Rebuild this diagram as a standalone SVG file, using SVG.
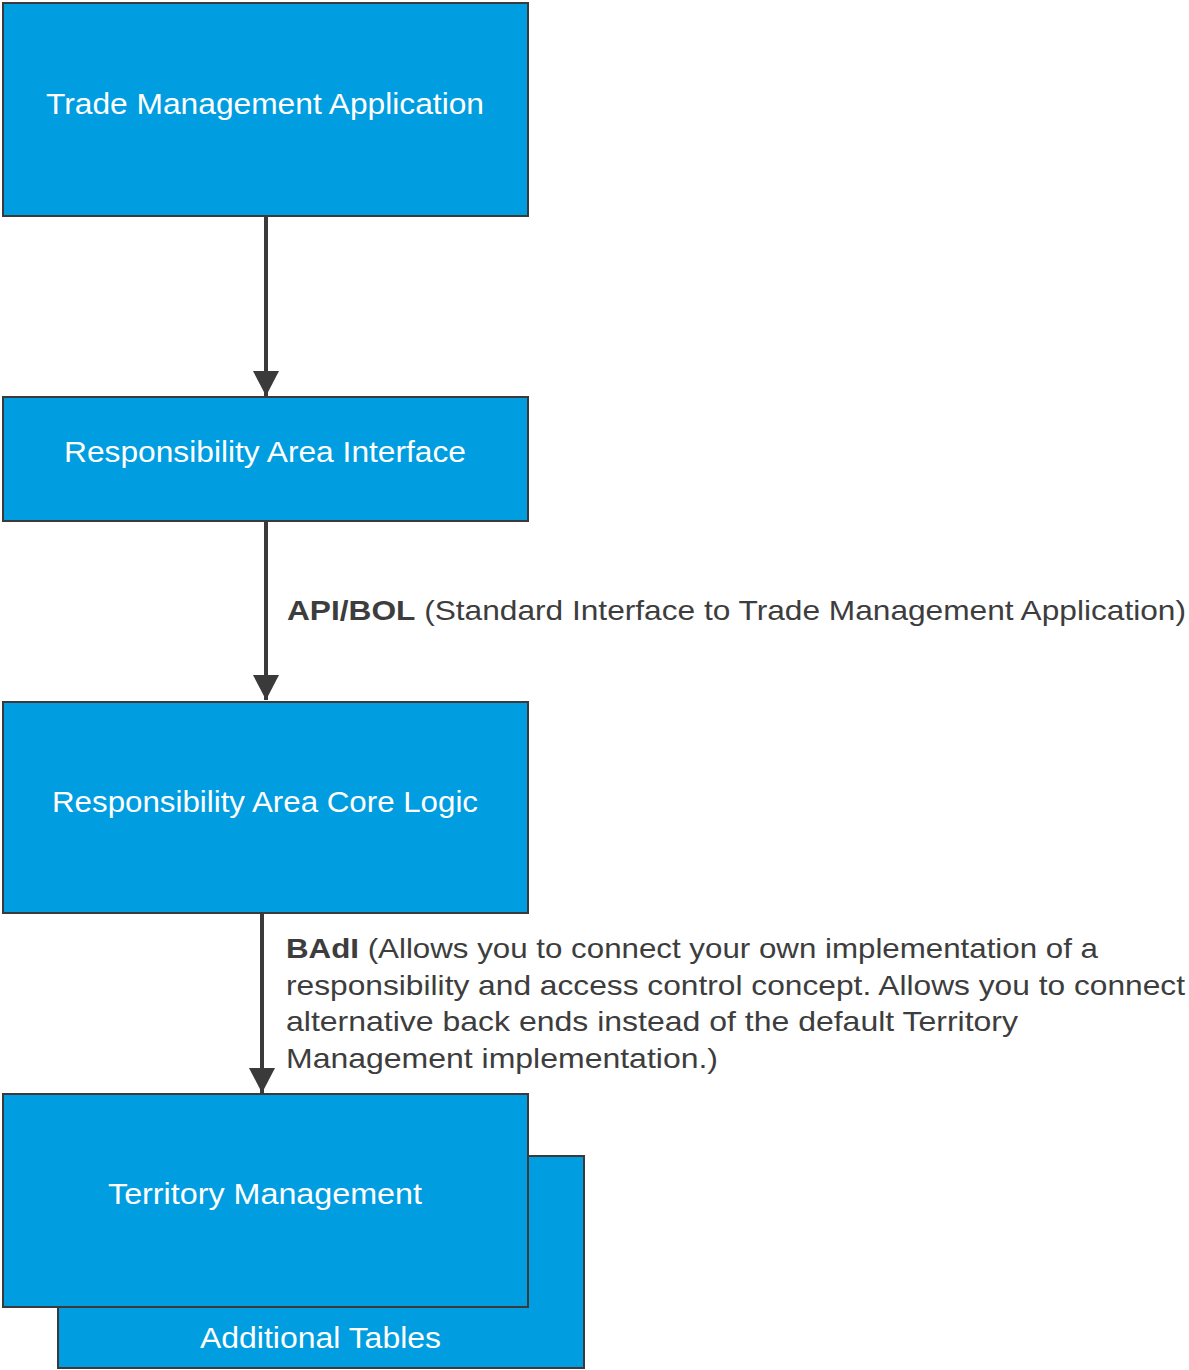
<svg xmlns="http://www.w3.org/2000/svg" width="1189" height="1370" viewBox="0 0 1189 1370">
<style>
.box{fill:#009de0;stroke:#3a3a3a;stroke-width:2}
.bt{fill:#ffffff;font-family:"Liberation Sans",Arial,sans-serif;font-size:30px}
.lb{fill:#3d3d3d;font-family:"Liberation Sans",Arial,sans-serif;font-size:28px}
.b{font-weight:bold}
.conn{stroke:#3a3a3a;stroke-width:4;fill:none;marker-end:url(#ah)}
</style>
<defs>
<marker id="ah" markerUnits="userSpaceOnUse" markerWidth="26" markerHeight="26" refX="25" refY="13" orient="auto" viewBox="0 0 26 26">
<path d="M0,0 L25,13 L0,26 Z" fill="#3a3a3a"/>
</marker>
</defs>
<rect width="1189" height="1370" fill="#ffffff"/>
<g id="connectors">
<line class="conn" x1="266" y1="217" x2="266" y2="396"/>
<line class="conn" x1="266" y1="522" x2="266" y2="700"/>
<line class="conn" x1="262" y1="914" x2="262" y2="1093"/>
</g>
<g id="additional-tables">
<rect class="box" x="58" y="1156" width="526" height="212"/>
<text class="bt" x="200" y="1348" textLength="241" lengthAdjust="spacingAndGlyphs">Additional Tables</text>
</g>
<g id="trade-management-application">
<rect class="box" x="3" y="3" width="525" height="213"/>
<text class="bt" x="46" y="114" textLength="438" lengthAdjust="spacingAndGlyphs">Trade Management Application</text>
</g>
<g id="responsibility-area-interface">
<rect class="box" x="3" y="397" width="525" height="124"/>
<text class="bt" x="64" y="462" textLength="402" lengthAdjust="spacingAndGlyphs">Responsibility Area Interface</text>
</g>
<g id="responsibility-area-core-logic">
<rect class="box" x="3" y="702" width="525" height="211"/>
<text class="bt" x="52" y="812" textLength="426" lengthAdjust="spacingAndGlyphs">Responsibility Area Core Logic</text>
</g>
<g id="territory-management">
<rect class="box" x="3" y="1094" width="525" height="213"/>
<text class="bt" x="108" y="1204" textLength="314" lengthAdjust="spacingAndGlyphs">Territory Management</text>
</g>
<g id="labels">
<text class="lb" x="287" y="620" textLength="899" lengthAdjust="spacingAndGlyphs"><tspan class="b">API/BOL</tspan> (Standard Interface to Trade Management Application)</text>
<text class="lb" x="286" y="958" textLength="812" lengthAdjust="spacingAndGlyphs"><tspan class="b">BAdI</tspan> (Allows you to connect your own implementation of a</text>
<text class="lb" x="286" y="995" textLength="899" lengthAdjust="spacingAndGlyphs">responsibility and access control concept. Allows you to connect</text>
<text class="lb" x="286" y="1031" textLength="732" lengthAdjust="spacingAndGlyphs">alternative back ends instead of the default Territory</text>
<text class="lb" x="286" y="1068" textLength="432" lengthAdjust="spacingAndGlyphs">Management implementation.)</text>
</g>
</svg>
